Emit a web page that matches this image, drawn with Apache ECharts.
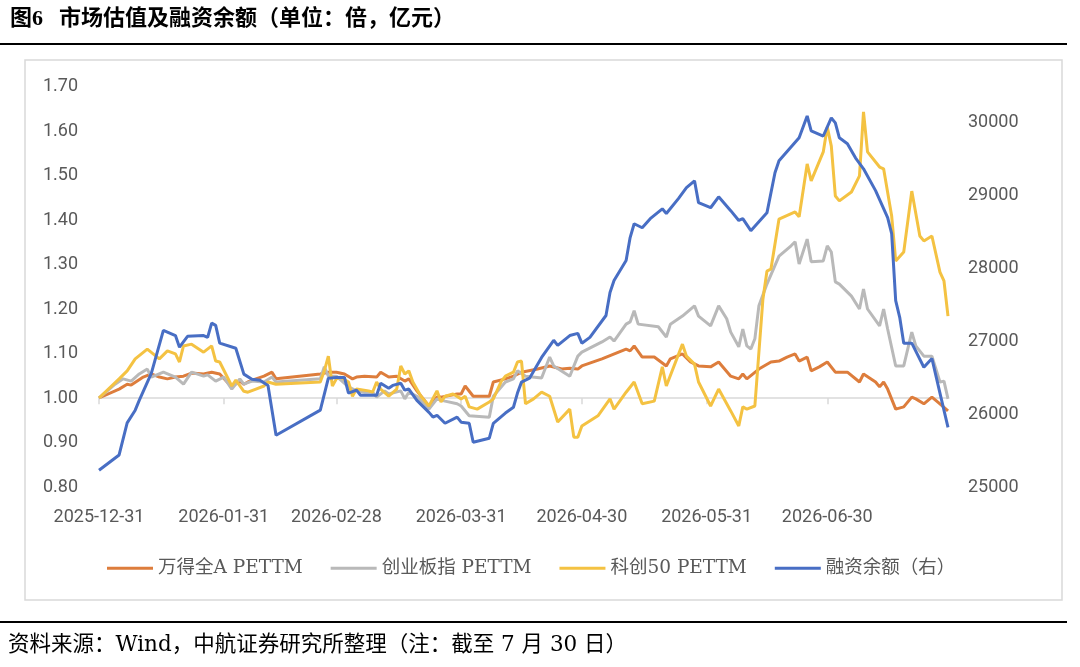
<!DOCTYPE html>
<html>
<head>
<meta charset="utf-8">
<script src="https://cdn.jsdelivr.net/npm/echarts@6/dist/echarts.min.js"></script>
<style>
  html, body { margin: 0; padding: 0; background: #fff; }
  #chart { width: 1080px; height: 667px; }
</style>
</head>
<body>
<div id="chart"></div>
<script>
// ── Data (x = calendar days after 2025-12-31) ─────────────────────────────────

const START = [2025, 11, 31];
const LAST_DAY = 211;               // 2026-07-30
const tickDates = ['2025-12-31', '2026-01-31', '2026-02-28', '2026-03-31',
                   '2026-04-30', '2026-05-31', '2026-06-30'];

const windADays = [0,5,7,8,11,13,15,17,19,21,23,26,28,30,33,35,36,37,39,41,43,44,55,57,59,61,63,64,66,69,
  70,72,74,76,77,79,82,84,85,89,90,91,93,97,98,101,103,105,109,112,115,117,119,120,125,131,132,133,135,138,
  141,142,145,147,149,152,154,157,159,160,161,164,167,169,171,173,174,176,177,179,181,183,186,189,190,193,
  194,195,196,198,200,202,203,205,207,209,211];
const windAVals = [1.000,1.020,1.031,1.029,1.047,1.054,1.047,1.043,1.047,1.049,1.056,1.054,1.058,1.054,1.025,
  1.038,1.031,1.036,1.043,1.049,1.058,1.043,1.054,1.058,1.058,1.054,1.043,1.047,1.049,1.047,1.058,1.047,1.049,
  1.038,1.043,1.016,0.982,1.002,1.002,1.009,1.009,1.027,1.004,1.004,1.036,1.043,1.049,1.058,1.065,1.072,1.065,
  1.067,1.065,1.072,1.088,1.110,1.106,1.117,1.092,1.092,1.072,1.088,1.099,1.081,1.072,1.070,1.081,1.049,1.043,
  1.054,1.043,1.065,1.081,1.083,1.092,1.099,1.083,1.092,1.061,1.070,1.081,1.058,1.058,1.036,1.054,1.036,1.025,
  1.036,1.020,0.975,0.980,1.002,0.998,0.987,1.002,0.987,0.971];

const chinextDays = [0,4,6,8,10,12,13,16,19,21,23,26,27,29,31,33,35,36,38,41,43,44,55,56,57,59,62,64,66,68,
  69,71,72,75,76,77,79,82,84,86,89,90,92,97,98,101,103,104,106,110,112,113,117,119,120,125,127,128,131,132,
  133,134,139,141,142,145,148,149,152,154,156,157,159,160,161,162,163,164,166,169,172,173,174,176,177,180,
  181,182,183,184,187,189,190,191,194,195,196,198,200,202,203,205,207,209,210,211];
const chinextVals = [1.000,1.031,1.043,1.038,1.054,1.065,1.047,1.058,1.047,1.031,1.058,1.049,1.052,1.038,1.047,
  1.020,1.043,1.031,1.038,1.036,1.047,1.036,1.043,1.070,1.049,1.049,1.025,1.016,1.013,1.013,1.002,1.016,1.009,
  1.016,0.998,1.013,1.004,0.975,0.998,0.993,0.987,0.982,0.960,0.957,1.004,1.036,1.043,1.061,1.049,1.045,1.092,
  1.072,1.049,1.094,1.103,1.126,1.137,1.128,1.166,1.171,1.196,1.166,1.160,1.137,1.166,1.184,1.207,1.184,1.162,
  1.207,1.178,1.148,1.115,1.155,1.117,1.110,1.133,1.207,1.256,1.319,1.342,1.351,1.301,1.357,1.306,1.308,1.342,
  1.328,1.261,1.256,1.229,1.200,1.245,1.200,1.162,1.200,1.155,1.072,1.072,1.148,1.117,1.094,1.094,1.036,1.038,
  0.998];

const star50Days = [0,5,7,9,12,15,17,19,20,21,23,26,28,29,30,33,34,36,37,39,41,42,44,55,56,57,58,59,60,62,
  63,64,67,68,69,70,72,74,75,76,77,78,80,82,84,85,86,88,90,91,92,94,97,98,100,101,103,104,105,106,108,110,
  112,114,117,118,119,120,124,127,128,131,133,135,138,140,141,145,146,148,149,152,154,157,159,160,161,163,
  165,166,167,169,173,174,176,177,180,181,182,183,184,187,189,190,191,194,195,197,198,200,202,204,205,207,
  209,210,211];
const star50Vals = [1.000,1.043,1.061,1.088,1.110,1.088,1.106,1.099,1.081,1.117,1.121,1.103,1.117,1.083,1.081,
  1.027,1.040,1.015,1.013,1.020,1.027,1.036,1.031,1.036,1.061,1.094,1.027,1.043,1.047,1.036,1.004,1.020,1.016,
  1.013,1.036,1.020,1.004,1.020,1.072,1.054,1.061,1.036,1.004,0.982,1.016,0.991,1.004,1.009,0.998,1.004,0.980,
  0.975,0.991,0.998,1.038,1.049,1.058,1.081,1.083,0.987,0.998,1.013,1.004,0.946,0.975,0.912,0.912,0.937,0.960,
  0.998,0.975,1.013,1.036,0.987,0.993,1.070,1.027,1.121,1.094,1.076,1.036,0.982,1.020,0.971,0.937,0.980,0.975,
  0.982,1.222,1.285,1.290,1.402,1.418,1.407,1.526,1.488,1.553,1.609,1.566,1.454,1.443,1.463,1.499,1.643,1.553,
  1.519,1.515,1.409,1.308,1.328,1.465,1.364,1.353,1.364,1.283,1.263,1.184];

const marginDays = [0,5,7,9,10,13,16,19,20,22,26,27,28,29,30,34,36,38,40,42,44,55,57,59,61,62,64,65,69,70,
  72,73,75,76,77,79,82,83,84,86,89,90,92,93,97,98,101,103,104,105,107,110,113,114,117,119,120,122,126,127,
  128,131,132,133,135,137,140,141,144,146,148,149,152,154,157,159,160,162,166,168,169,174,176,177,180,182,
  183,184,186,188,190,193,196,197,198,199,200,202,205,207,209,211];
const marginVals = [25230,25440,25880,26055,26190,26560,27150,27080,26920,27070,27080,27055,27250,27220,26975,
  26905,26550,26480,26465,26395,25710,26055,26495,26505,26505,26290,26330,26260,26260,26425,26355,26395,26425,
  26330,26345,26190,26025,25960,25985,25875,25960,25890,25875,25615,25670,25875,26015,26095,26290,26440,26495,
  26780,27015,26945,27080,27110,26975,27055,27355,27670,27835,28110,28425,28615,28560,28685,28820,28755,28960,
  29110,29205,28905,28835,28985,28795,28660,28685,28520,28765,29315,29480,29795,30095,29890,29820,30070,30000,
  29795,29715,29520,29370,29070,28700,28480,27560,27330,26975,26975,26645,26765,26290,25820];

// ── Helpers ───────────────────────────────────────────────────────────────────

function dayLabel(d) {
  const t = new Date(Date.UTC(START[0], START[1], START[2] + d));
  const mm = String(t.getUTCMonth() + 1).padStart(2, '0');
  const dd = String(t.getUTCDate()).padStart(2, '0');
  return `${t.getUTCFullYear()}-${mm}-${dd}`;
}

const categories = [];
for (let d = 0; d <= LAST_DAY; d++) categories.push(dayLabel(d));

const pairs = (days, vals) => days.map((d, i) => [d, vals[i]]);
const isTickDate = (idx, val) => tickDates.indexOf(val) >= 0;

// ── Chart ─────────────────────────────────────────────────────────────────────

const SERIF = "'Liberation Serif','Noto Sans CJK SC',serif";
const WIDE_SERIF = "'DejaVu Serif','Noto Sans CJK SC',serif";
const SANS  = "Roboto,'Noto Sans CJK SC',sans-serif";
const AXIS_GRAY = '#595959';
const LINE_GRAY = '#D9D9D9';

const GRID = { left: 99, right: 132, top: 86.5, bottom: 180 };
const LEFT_MIN = 0.8, LEFT_MAX = 1.7, CROSS_AT = 1.0;
const TICK_LEN = 0.014;   // tick length below the 1.00 axis, in left-axis units

// horizontal axis at 1.00 plus its month-end ticks
const crossAxis = [{ yAxis: CROSS_AT }].concat(
  tickDates.map(d => [{ coord: [d, CROSS_AT] }, { coord: [d, CROSS_AT - TICK_LEN] }])
);

const chart = echarts.init(document.getElementById('chart'), null, { renderer: 'canvas' });

chart.setOption({
  animation: false,
  backgroundColor: '#fff',
  grid: GRID,
  graphic: [
    { type: 'text', x: 10, y: 19, style: { text: '图6', font: `bold 22px ${SERIF}`, fill: '#000', verticalAlign: 'middle' } },
    { type: 'text', x: 59, y: 19, style: { text: '市场估值及融资余额（单位：倍，亿元）', font: `bold 22px ${SERIF}`, fill: '#000', verticalAlign: 'middle' } },
    { type: 'line', shape: { x1: 0, y1: 44, x2: 1067, y2: 44 }, style: { stroke: '#000', lineWidth: 2 } },
    { type: 'rect', z: -1, shape: { x: 25, y: 60, width: 1037, height: 540 }, style: { fill: 'none', stroke: LINE_GRAY, lineWidth: 1.5 } },
    { type: 'line', shape: { x1: 0, y1: 622, x2: 1067, y2: 622 }, style: { stroke: '#000', lineWidth: 2 } },
    { type: 'text', x: 8, y: 645, style: { text: '资料来源：Wind，中航证券研究所整理（注：截至 7 月 30 日）', font: `21.5px ${WIDE_SERIF}`, fill: '#000', verticalAlign: 'middle' } },
  ],
  legend: {
    left: 107,
    top: 559,
    padding: 0,
    itemWidth: 46,
    itemHeight: 3,
    itemGap: 28,
    icon: 'rect',
    textStyle: { color: AXIS_GRAY, fontSize: 18.5, fontFamily: WIDE_SERIF },
  },
  xAxis: {
    type: 'category',
    data: categories,
    boundaryGap: false,
    axisLine: { show: false },
    axisTick: { show: false },
    splitLine: { show: false },
    axisLabel: { interval: isTickDate, color: AXIS_GRAY, fontSize: 18, fontFamily: SANS, margin: 22 },
  },
  yAxis: [
    {
      type: 'value',
      min: LEFT_MIN,
      max: LEFT_MAX,
      interval: 0.1,
      axisLine: { show: false },
      axisTick: { show: false },
      splitLine: { show: false },
      axisLabel: { color: AXIS_GRAY, fontSize: 18, fontFamily: SANS, margin: 21, formatter: v => v.toFixed(2) },
    },
    {
      type: 'value',
      min: 25000,
      max: 30500,
      interval: 1000,
      axisLine: { show: false },
      axisTick: { show: false },
      splitLine: { show: false },
      axisLabel: { color: AXIS_GRAY, fontSize: 18, fontFamily: SANS, margin: 20, showMaxLabel: false, formatter: v => String(v) },
    },
  ],
  series: [
    {
      name: '万得全A PETTM', data: pairs(windADays, windAVals), color: '#DD7D3C',
      markLine: {
        silent: true, z: 1, symbol: 'none', label: { show: false },
        lineStyle: { color: LINE_GRAY, width: 1.5, type: 'solid' },
        data: crossAxis,
      },
    },
    { name: '创业板指 PETTM', data: pairs(chinextDays, chinextVals), color: '#B9B9B9' },
    { name: '科创50 PETTM', data: pairs(star50Days, star50Vals), color: '#F4C242' },
    { name: '融资余额（右）', data: pairs(marginDays, marginVals), color: '#486EC4', yAxisIndex: 1 },
  ].map(s => Object.assign({
    type: 'line',
    yAxisIndex: 0,
    showSymbol: false,
    symbol: 'none',
    lineStyle: { width: 3 },
  }, s)),
});
</script>
</body>
</html>
